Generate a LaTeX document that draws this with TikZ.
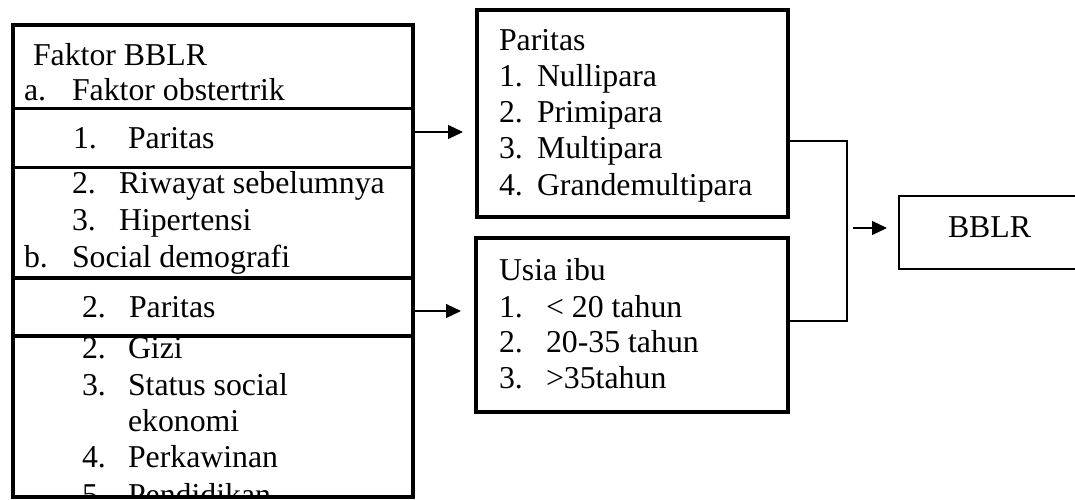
\documentclass[tikz,border=0pt]{standalone}
\usepackage{fontspec}
\setmainfont{Liberation Serif}
\usetikzlibrary{arrows.meta}
\tikzset{
  txt/.style={anchor=base west, inner sep=0pt, outer sep=0pt, font=\fontsize{31.8}{36}\selectfont},
  thickbox/.style={draw, line width=3.6pt, rectangle, inner sep=0pt, outer sep=0pt, anchor=north west},
  thinbox/.style={draw, line width=1.6pt, rectangle, inner sep=0pt, outer sep=0pt, anchor=north west},
  conn/.style={line width=1.1pt},
  arr/.style={line width=1.1pt, -{Triangle[length=15pt,width=14pt]}}
}
\begin{document}
\begin{tikzpicture}[x=1pt,y=-1pt]
\useasboundingbox (0,0) rectangle (1075,499);
% ---- left column texts ----
\node[txt] (t1) at (33,65) {Faktor BBLR};
\node[txt] (t2a) at (24,100) {a.};
\node[txt] (t2b) at (72,100) {Faktor obstertrik};
\node[txt] (t3a) at (73,148) {1.};
\node[txt] (t3b) at (128,148) {Paritas};
\node[txt] (t4a) at (72,193) {2.};
\node[txt] (t4b) at (119,193) {Riwayat sebelumnya};
\node[txt] (t5a) at (72,230) {3.};
\node[txt] (t5b) at (119,230) {Hipertensi};
\node[txt] (t6a) at (24,267) {b.};
\node[txt] (t6b) at (72,267) {Social demografi};
\node[txt] (t7a) at (82,317) {2.};
\node[txt] (t7b) at (129,317) {Paritas};
\node[txt] (t8a) at (82,358) {2.};
\node[txt] (t8b) at (128,358) {Gizi};
\node[txt] (t9a) at (82,395) {3.};
\node[txt] (t9b) at (128,395) {Status social};
\node[txt] (t10) at (128,431) {ekonomi};
\node[txt] (t11a) at (82,467) {4.};
\node[txt] (t11b) at (128,467) {Perkawinan};
\begin{scope}
\clip (0,0) rectangle (1075,496);
\node[txt] (t12a) at (82,505) {5.};
\node[txt] (t12b) at (128,505) {Pendidikan};
\end{scope}
% ---- left column boxes ----
\node[thickbox, minimum width=400pt, minimum height=83.5pt] (L1) at (13,25) {};
\node[thickbox, minimum width=400pt, minimum height=59pt] (L2) at (13,108.5) {};
\node[thickbox, minimum width=400pt, minimum height=110.5pt] (L3) at (13,167.5) {};
\node[thickbox, minimum width=400pt, minimum height=58pt] (L4) at (13,278) {};
\node[thickbox, minimum width=400pt, minimum height=161pt] (L5) at (13,336) {};
% ---- Paritas box ----
\node[thickbox, minimum width=311pt, minimum height=207pt] (P) at (477,10) {};
\node[txt] (p0) at (499,50) {Paritas};
\node[txt] (p1a) at (499,86) {1.};
\node[txt] (p1b) at (537,86) {Nullipara};
\node[txt] (p2a) at (499,122) {2.};
\node[txt] (p2b) at (537,122) {Primipara};
\node[txt] (p3a) at (499,158) {3.};
\node[txt] (p3b) at (537,158) {Multipara};
\node[txt] (p4a) at (499,195) {4.};
\node[txt] (p4b) at (537,195) {Grandemultipara};
% ---- Usia box ----
\node[thickbox, minimum width=312pt, minimum height=174pt] (U) at (476,238) {};
\node[txt] (u0) at (499,280) {Usia ibu};
\node[txt] (u1a) at (499,317) {1.};
\node[txt] (u1b) at (546,317) {< 20 tahun};
\node[txt] (u2a) at (499,352) {2.};
\node[txt] (u2b) at (546,352) {20-35 tahun};
\node[txt] (u3a) at (499,388) {3.};
\node[txt] (u3b) at (546,388) {>35tahun};
% ---- BBLR box ----
\node[thinbox, minimum width=190pt, minimum height=73pt] (B) at (899,196) {};
\node[txt] (b0) at (948,237) {BBLR};
% ---- connectors ----
\coordinate (a1) at (463,132);
\coordinate (a2) at (461,311);
\draw[arr] (L2.east |- a1) -- (a1);
\draw[arr] (L4.east |- a2) -- (a2);
\coordinate (j1) at (847,141);
\coordinate (j2) at (847,321);
\draw[conn] (P.east |- j1) -- (j1) -- (j2) -- (U.east |- j2);
\coordinate (s3) at (853,228);
\draw[arr] (s3) -- ([xshift=-12pt]B.west |- s3);
\end{tikzpicture}
\end{document}
